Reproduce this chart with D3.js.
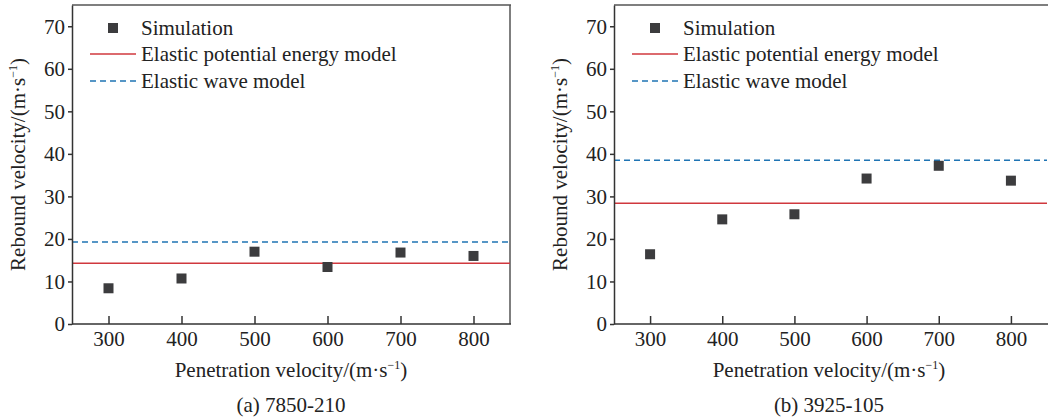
<!DOCTYPE html>
<html>
<head>
<meta charset="utf-8">
<script src="https://cdn.jsdelivr.net/npm/d3@7"></script>
<style>
  body { margin: 0; background: #fff; }
  svg text { font-family: "Liberation Serif", "Times New Roman", serif; fill: #222; }
  .tick text { font-size: 21px; }
</style>
</head>
<body>
<svg id="chart" width="1050" height="420"></svg>
<script>
'use strict';

// penetration velocities (m/s)
var velocities = [300, 400, 500, 600, 700, 800];

// panel (a) 7850-210
var simA = [8.4, 10.7, 17.0, 13.4, 16.8, 16.0];
var energyA = 14.3;
var waveA = 19.3;

// panel (b) 3925-105
var simB = [16.4, 24.6, 25.8, 34.2, 37.2, 33.7];
var energyB = 28.4;
var waveB = 38.5;

var yTicks = [0, 10, 20, 30, 40, 50, 60, 70];
var xTicks = [300, 400, 500, 600, 700, 800];
var legendLabels = ['Simulation', 'Elastic potential energy model', 'Elastic wave model'];
var captions = ['(a) 7850-210', '(b) 3925-105'];

var RED = '#d0383e';
var BLUE = '#1f74b4';
var MARK = '#3c3c3e';
var AXIS = '#333';

var svg = d3.select('#chart');

var panels = [
    { left: 72, right: 510, sim: simA, energy: energyA, wave: waveA, caption: captions[0], rightBorder: true },
    { left: 614, right: 1047, sim: simB, energy: energyB, wave: waveB, caption: captions[1], rightBorder: false }
];

var TOP = 5, BOTTOM = 324;

panels.forEach(drawPanel);

function drawPanel(p) {
    var x = d3.scaleLinear().domain([250, 850]).range([p.left, p.right]);
    var y = d3.scaleLinear().domain([0, 75]).range([BOTTOM, TOP]);
    var g = svg.append('g');
    var midX = (p.left + (p.rightBorder ? p.right : p.right - 3)) / 2;

    // frame (top / right)
    g.append('line')
        .attr('x1', p.left).attr('x2', p.right + 1)
        .attr('y1', TOP).attr('y2', TOP)
        .attr('stroke', '#555').attr('stroke-width', 1.5);
    if (p.rightBorder) {
        g.append('line')
            .attr('x1', p.right).attr('x2', p.right)
            .attr('y1', TOP).attr('y2', BOTTOM)
            .attr('stroke', '#555').attr('stroke-width', 1.5);
    }

    // model lines
    g.append('line')
        .attr('x1', p.left).attr('x2', p.right)
        .attr('y1', y(p.energy)).attr('y2', y(p.energy))
        .attr('stroke', RED).attr('stroke-width', 1.5);
    g.append('line')
        .attr('x1', p.left).attr('x2', p.right)
        .attr('y1', y(p.wave)).attr('y2', y(p.wave))
        .attr('stroke', BLUE).attr('stroke-width', 1.5)
        .attr('stroke-dasharray', '6,4');

    // simulation points
    var s = 10;
    g.selectAll('rect.pt')
        .data(p.sim)
        .enter()
        .append('rect')
        .attr('class', 'pt')
        .attr('x', function(d, i) { return x(velocities[i]) - s / 2; })
        .attr('y', function(d) { return y(d) - s / 2; })
        .attr('width', s).attr('height', s)
        .attr('fill', MARK);

    // axes
    var axisX = d3.axisBottom(x).tickValues(xTicks).tickSize(0).tickPadding(7);
    var gx = g.append('g')
        .attr('transform', 'translate(0,' + BOTTOM + ')')
        .call(axisX);
    gx.select('.domain').remove();
    gx.selectAll('.tick').append('line')
        .attr('y1', 0).attr('y2', -8)
        .attr('stroke', AXIS).attr('stroke-width', 1.5);
    gx.append('line')
        .attr('x1', p.left).attr('x2', p.right + 1)
        .attr('stroke', AXIS).attr('stroke-width', 1.5);

    var axisY = d3.axisLeft(y).tickValues(yTicks).tickSize(4).tickSizeOuter(0).tickPadding(3);
    var gy = g.append('g')
        .attr('transform', 'translate(' + p.left + ',0)')
        .call(axisY);
    gy.select('.domain').attr('stroke', AXIS).attr('stroke-width', 1.5);
    gy.selectAll('.tick line').attr('stroke', AXIS).attr('stroke-width', 1.5);

    // axis titles
    var xt = g.append('text')
        .attr('x', midX)
        .attr('y', 377)
        .attr('text-anchor', 'middle')
        .style('font-size', '21px');
    xt.append('tspan').text('Penetration velocity/(m·s');
    xt.append('tspan').attr('dy', -8).style('font-size', '12px').text('\u22121');
    xt.append('tspan').attr('dy', 8).text(')');

    var yt = g.append('text')
        .attr('transform', 'translate(' + (p.left - 47) + ',' + ((TOP + BOTTOM) / 2) + ') rotate(-90)')
        .attr('text-anchor', 'middle')
        .style('font-size', '21px');
    yt.append('tspan').text('Rebound velocity/(m·s');
    yt.append('tspan').attr('dy', -8).style('font-size', '12px').text('\u22121');
    yt.append('tspan').attr('dy', 8).text(')');

    // caption
    g.append('text')
        .attr('x', midX)
        .attr('y', 412)
        .attr('text-anchor', 'middle')
        .style('font-size', '21px')
        .text(p.caption);

    // legend
    var lg = g.append('g');
    var rowY = [28, 54, 81];
    lg.append('rect')
        .attr('x', p.left + 41 - 5).attr('y', rowY[0] - 5)
        .attr('width', 10).attr('height', 10)
        .attr('fill', MARK);
    lg.append('line')
        .attr('x1', p.left + 18).attr('x2', p.left + 64)
        .attr('y1', rowY[1]).attr('y2', rowY[1])
        .attr('stroke', RED).attr('stroke-width', 1.5);
    lg.append('line')
        .attr('x1', p.left + 18).attr('x2', p.left + 64)
        .attr('y1', rowY[2]).attr('y2', rowY[2])
        .attr('stroke', BLUE).attr('stroke-width', 1.5)
        .attr('stroke-dasharray', '6,4');
    lg.selectAll('text.lbl')
        .data(legendLabels)
        .enter()
        .append('text')
        .attr('class', 'lbl')
        .attr('x', p.left + 69)
        .attr('y', function(d, i) { return rowY[i]; })
        .attr('dy', '0.35em')
        .style('font-size', '21px')
        .text(function(d) { return d; });
}
</script>
</body>
</html>
